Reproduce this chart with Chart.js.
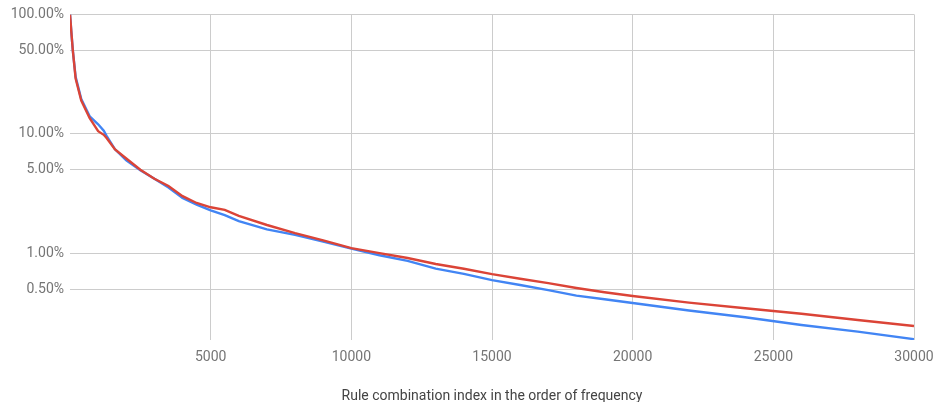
<!DOCTYPE html>
<html>
<head>
<meta charset="utf-8">
<script src="https://cdn.jsdelivr.net/npm/chart.js@4.4.1/dist/chart.umd.min.js"></script>
<style>
  html, body { margin: 0; padding: 0; background: #fff; }
  #wrap { width: 936px; height: 402px; }
</style>
</head>
<body>
<div id="wrap"><canvas id="freqChart"></canvas></div>
<script>
// rule combination index (x)
const ruleIndex = [1, 50, 100, 200, 400, 700, 1000, 1200, 1300, 1600, 2000, 2500, 3000, 3500, 4000, 4500, 5000, 5500, 6000, 7000, 8000, 9000, 10000, 11000, 12000, 13000, 14000, 15000, 16000, 17000, 18000, 19000, 20000, 22000, 24000, 26000, 28000, 30000];
// share of occurrences, in percent
const redSeries = [100, 70, 50, 29, 19, 13.5, 10.5, 9.8, 9.2, 7.4, 6.2, 5.0, 4.2, 3.65, 3.0, 2.63, 2.42, 2.3, 2.05, 1.72, 1.47, 1.28, 1.10, 1.0, 0.91, 0.81, 0.74, 0.667, 0.61, 0.56, 0.51, 0.47, 0.437, 0.385, 0.345, 0.31, 0.275, 0.245];
const blueSeries = [100, 70, 50, 30, 19.5, 14, 12.0, 10.6, 9.6, 7.4, 6.0, 4.95, 4.2, 3.55, 2.9, 2.55, 2.28, 2.08, 1.85, 1.58, 1.42, 1.25, 1.09, 0.96, 0.86, 0.74, 0.67, 0.594, 0.54, 0.49, 0.44, 0.41, 0.382, 0.33, 0.29, 0.25, 0.22, 0.19];
const yTicks = [0.5, 1, 5, 10, 50, 100];
const xTicks = [5000, 10000, 15000, 20000, 25000, 30000];

const toPoints = (vals) => vals.map((v, i) => ({ x: ruleIndex[i], y: v }));

const tickFont = { family: "Roboto", size: 14 };

new Chart(document.getElementById("freqChart"), {
  type: "line",
  data: {
    datasets: [
      {
        label: "red",
        data: toPoints(redSeries),
        borderColor: "#db4437",
        borderWidth: 2.4,
        pointRadius: 0,
        tension: 0,
      },
      {
        label: "blue",
        data: toPoints(blueSeries),
        borderColor: "#4285f4",
        borderWidth: 2.4,
        pointRadius: 0,
        tension: 0,
      },
    ],
  },
  options: {
    responsive: true,
    maintainAspectRatio: false,
    animation: false,
    layout: { padding: { left: 0, right: 22, top: 14, bottom: 0 } },
    plugins: {
      legend: { display: false },
      tooltip: { enabled: false },
    },
    scales: {
      x: {
        type: "linear",
        min: 0,
        max: 30000,
        afterBuildTicks: (scale) => {
          scale.ticks = xTicks.map((v) => ({ value: v }));
        },
        afterFit: (scale) => {
          scale.height = 62;
          // let the last label hang into the right margin
          scale.paddingRight = 0;
          scale.paddingLeft = 0;
        },
        border: { display: false },
        grid: { color: "#cccccc", drawTicks: false },
        ticks: {
          padding: 9,
          color: "#757575",
          font: tickFont,
          maxRotation: 0,
          callback: (v) => String(v),
        },
        title: {
          display: true,
          text: "Rule combination index in the order of frequency",
          color: "#444444",
          font: tickFont,
          padding: { top: -2.5, bottom: -2.5 },
        },
      },
      y: {
        type: "logarithmic",
        min: 0.187,
        max: 100,
        afterBuildTicks: (scale) => {
          scale.ticks = yTicks.map((v) => ({ value: v }));
        },
        afterFit: (scale) => {
          scale.width = 70;
        },
        border: { display: false },
        grid: { color: "#cccccc", drawTicks: false },
        ticks: {
          padding: 6,
          color: "#757575",
          font: tickFont,
          callback: (v) => v.toFixed(2) + "%",
        },
      },
    },
  },
});
</script>
</body>
</html>
